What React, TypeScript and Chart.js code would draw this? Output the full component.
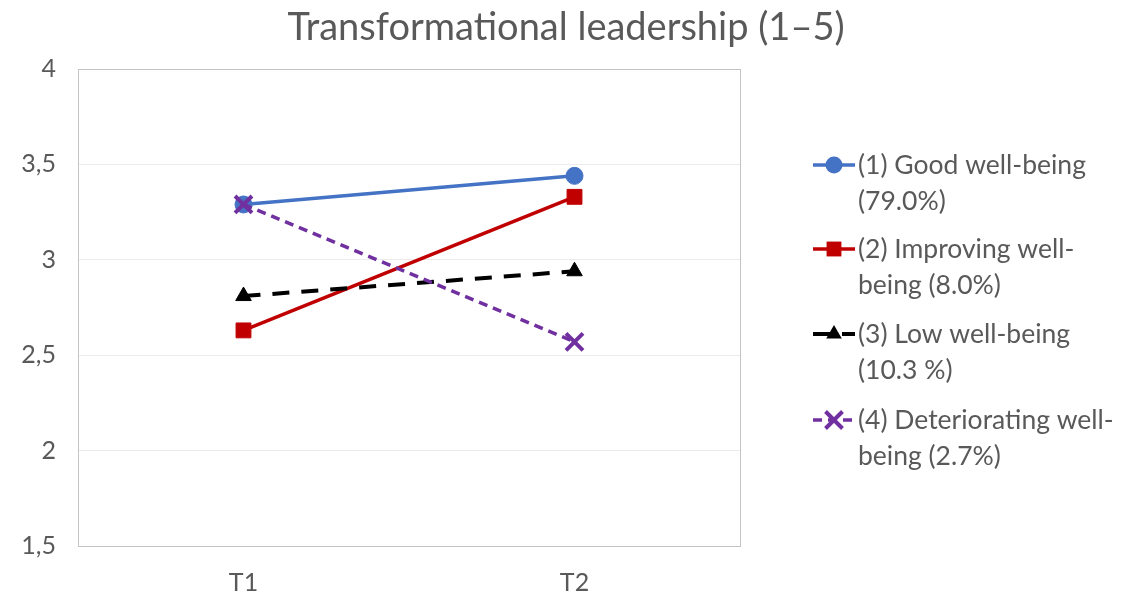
import React, { useEffect, useRef } from "react";
import { Chart, registerables } from "chart.js";

Chart.register(...registerables);

const chartTitle = "Transformational leadership (1\u20135)";
const categories = ["T1", "T2"];
const goodWellBeing = [3.29, 3.44];
const improvingWellBeing = [2.63, 3.33];
const lowWellBeing = [2.81, 2.94];
const deterioratingWellBeing = [3.29, 2.57];
const seriesLabels = [
  "(1) Good well-being (79.0%)",
  "(2) Improving well-being (8.0%)",
  "(3) Low well-being (10.3 %)",
  "(4) Deteriorating well-being (2.7%)",
];
const legendLines = [
  ["(1) Good well-being", "(79.0%)"],
  ["(2) Improving well-", "being (8.0%)"],
  ["(3) Low well-being", "(10.3 %)"],
  ["(4) Deteriorating well-", "being (2.7%)"],
];
const yMin = 1.5;
const yMax = 4;
const yStep = 0.5;

const TEXT = "#595959";
const FONT = "Lato, 'Open Sans', sans-serif";

function drawMarker(ctx: CanvasRenderingContext2D, style: string, x: number, y: number, r: number, color: string, lw: number) {
  ctx.save();
  ctx.setLineDash([]);
  ctx.fillStyle = color;
  ctx.strokeStyle = color;
  ctx.beginPath();
  if (style === "circle") {
    ctx.arc(x, y, r, 0, Math.PI * 2);
    ctx.fill();
  } else if (style === "rect") {
    const s = r * Math.SQRT1_2;
    ctx.rect(x - s, y - s, 2 * s, 2 * s);
    ctx.fill();
  } else if (style === "triangle") {
    ctx.moveTo(x, y - r);
    ctx.lineTo(x + r * 0.866, y + r * 0.5);
    ctx.lineTo(x - r * 0.866, y + r * 0.5);
    ctx.closePath();
    ctx.fill();
  } else if (style === "crossRot") {
    const o = r * Math.SQRT1_2;
    ctx.lineWidth = lw;
    ctx.moveTo(x - o, y - o);
    ctx.lineTo(x + o, y + o);
    ctx.moveTo(x + o, y - o);
    ctx.lineTo(x - o, y + o);
    ctx.stroke();
  }
  ctx.restore();
}

const decorPlugin = {
  id: "decor",
  beforeDatasetsDraw(chart: any) {
    const { ctx, chartArea } = chart;
    ctx.save();
    ctx.strokeStyle = "#C4C4C4";
    ctx.lineWidth = 1;
    ctx.strokeRect(
      Math.round(chartArea.left) + 0.5,
      Math.round(chartArea.top) + 0.5,
      Math.round(chartArea.right - chartArea.left),
      Math.round(chartArea.bottom - chartArea.top)
    );
    ctx.restore();
  },
  afterDraw(chart: any) {
    const { ctx } = chart;
    ctx.save();
    // title
    ctx.fillStyle = TEXT;
    ctx.font = `38px ${FONT}`;
    ctx.textAlign = "center";
    ctx.textBaseline = "middle";
    ctx.fillText(chartTitle, 566, 28);
    // legend
    const tops = [165, 249, 334, 420];
    chart.data.datasets.forEach((ds: any, i: number) => {
      const y = tops[i];
      ctx.save();
      ctx.strokeStyle = ds.borderColor;
      ctx.lineWidth = ds.borderWidth;
      ctx.setLineDash(ds.borderDash || []);
      ctx.beginPath();
      ctx.moveTo(813, y);
      ctx.lineTo(855, y);
      ctx.stroke();
      ctx.restore();
      drawMarker(ctx, ds.pointStyle, 834, y, ds.pointRadius, ds.pointBackgroundColor, ds.pointBorderWidth);
      ctx.fillStyle = TEXT;
      ctx.font = `26.5px ${FONT}`;
      ctx.textAlign = "left";
      ctx.textBaseline = "middle";
      legendLines[i].forEach((line, j) => {
        ctx.fillText(line, 858, y + j * 36);
      });
    });
    ctx.restore();
  },
};

export default function App() {
  const canvasRef = useRef<HTMLCanvasElement | null>(null);

  useEffect(() => {
    document.body.style.margin = "0";
    let chart: Chart | null = null;
    let cancelled = false;

    const create = () => {
      if (cancelled || !canvasRef.current) return;
      const mk = (label: string, data: number[], color: string, style: string, radius: number, dash: number[], width: number, pbw: number) => ({
        label,
        data,
        borderColor: color,
        backgroundColor: color,
        pointBackgroundColor: color,
        pointBorderColor: color,
        borderWidth: width,
        borderDash: dash,
        pointStyle: style,
        pointRadius: radius,
        pointHoverRadius: radius,
        pointBorderWidth: pbw,
        tension: 0,
        fill: false,
      });
      const datasets: any[] = [
        { ...mk(seriesLabels[0], goodWellBeing, "#4472C4", "circle", 8.5, [], 3.5, 1), order: 4 },
        { ...mk(seriesLabels[1], improvingWellBeing, "#C00000", "rect", 10.5, [], 3.5, 1), order: 3 },
        { ...mk(seriesLabels[2], lowWellBeing, "#000000", "triangle", 9, [17, 12], 4, 1), order: 2 },
        { ...mk(seriesLabels[3], deterioratingWellBeing, "#7030A0", "crossRot", 12, [9, 6], 3.5, 4), order: 1 },
      ];
      chart = new Chart(canvasRef.current, {
        type: "line",
        data: { labels: categories, datasets },
        options: {
          animation: false,
          responsive: false,
          maintainAspectRatio: false,
          layout: { padding: { top: 69, right: 384, left: 0, bottom: 0 } },
          plugins: {
            legend: { display: false },
            title: { display: false },
            tooltip: { enabled: false },
          },
          scales: {
            x: {
              type: "category",
              offset: true,
              grid: { display: false, drawTicks: false },
              border: { display: false },
              ticks: { color: TEXT, font: { family: FONT, size: 25 }, padding: 22 },
              afterFit: (s: any) => {
                s.height = 55;
              },
            },
            y: {
              min: yMin,
              max: yMax,
              grid: { color: "#EBEBEB", drawTicks: false, lineWidth: 1 },
              border: { display: false },
              ticks: {
                stepSize: yStep,
                color: TEXT,
                font: { family: FONT, size: 25 },
                padding: 22,
                callback: (v: any) => String(v).replace(".", ","),
              },
              afterFit: (s: any) => {
                s.width = 78;
              },
            },
          },
        },
        plugins: [decorPlugin],
      } as any);
    };

    if ((document as any).fonts && (document as any).fonts.load) {
      Promise.all([
        (document as any).fonts.load(`26px Lato`),
      ]).then(create, create);
    } else {
      create();
    }

    return () => {
      cancelled = true;
      if (chart) chart.destroy();
    };
  }, []);

  return (
    <div style={{ width: 1124, height: 601, position: "relative" }}>
      <canvas ref={canvasRef} width={1124} height={601} style={{ display: "block" }} />
    </div>
  );
}
